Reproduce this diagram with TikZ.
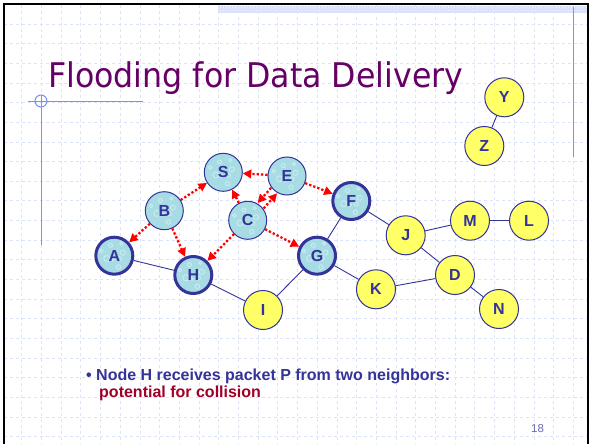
\documentclass[tikz,border=0pt]{standalone}
\usepackage{fontspec}
\setmainfont{Liberation Sans}
\newfontfamily\titlefont{DejaVu Sans}
\usetikzlibrary{arrows.meta,patterns,calc}
\definecolor{nblue}{HTML}{333399}
\definecolor{tpurple}{HTML}{660066}
\definecolor{nyellow}{HTML}{FFFF66}
\definecolor{ncyan}{HTML}{A8DCE4}
\definecolor{gridc}{HTML}{DCE4FC}
\definecolor{decob}{HTML}{7B93EE}
\definecolor{crim}{HTML}{A00028}
\definecolor{pgnum}{HTML}{6A6AAE}
\tikzset{
  netnode/.style={circle, draw=nblue, text=nblue, font=\bfseries\fontsize{16}{16}\selectfont, inner sep=0pt},
  texture/.style={path picture={
    \foreach \a/\r/\s in {20/9/2.5, 110/11/2, 200/8/3, 290/12/2.2, 160/14/1.8, 60/14/1.6, 250/4/1.5, 330/6/2}
      {\draw[white!45!ncyan, line width=0.8pt] ($(path picture bounding box.center)+(\a:\r pt)$) circle (\s pt);}}},
  cyannode/.style={netnode, fill=ncyan, texture, line width=1pt, minimum size=38pt},
  thicknode/.style={netnode, fill=ncyan, texture, line width=3pt, minimum size=37pt},
  yelnode/.style={netnode, fill=nyellow, line width=1pt, minimum size=39pt},
  link/.style={draw=nblue, line width=0.9pt},
  flood/.style={draw=red, line width=2.3pt, dash pattern=on 2.3pt off 2pt, -{Triangle[length=8.5pt,width=8.5pt]}},
  gridline/.style={draw=gridc, line width=0.8pt, dash pattern=on 3pt off 3pt},
  deco/.style={draw=decob, line width=1pt}
}
\begin{document}
\begin{tikzpicture}[x=1pt,y=-1pt]
\useasboundingbox (0,0) rectangle (591,444);
\fill[white] (0,0) rectangle (591,444);
% grid
\foreach \k in {0,...,28} {\draw[gridline] ({21.7+19.7*\k},5) -- ({21.7+19.7*\k},444);}
\foreach \k in {0,...,21} {\draw[gridline] (4,{24+19.65*\k}) -- (588,{24+19.65*\k});}
% top band
\fill[decob!30] (218,6) rectangle (588,13.5);
\fill[pattern=crosshatch dots, pattern color=white] (218,6) rectangle (588,13.5);
% border
\draw[black, line width=2pt] (3.5,444) -- (3.5,4.3) -- (588.3,4.3) -- (588.3,444);
% decorations
\draw[deco] (28,101) -- (143,101);
\draw[deco] (41,95) -- (41,245);
\draw[deco] (41,101) circle (6pt);
\draw[deco] (573.3,7) -- (573.3,157);
% title
\node[anchor=base west, inner sep=0pt, text=tpurple] (title) at (48,87)
  {\scalebox{0.93}[1]{\titlefont\fontsize{34}{34}\selectfont Flooding for Data Delivery}};
% nodes
\node[cyannode] (S) at (223.3,172.3) {S};
\node[cyannode] (E) at (287,176) {E};
\node[cyannode] (B) at (164.3,210.7) {B};
\node[cyannode] (C) at (247.7,220.3) {C};
\node[thicknode] (F) at (351.3,201) {F};
\node[thicknode] (A) at (114.3,255.7) {A};
\node[thicknode] (H) at (193.3,275) {H};
\node[thicknode] (G) at (317,255.7) {G};
\node[yelnode] (I) at (263,310) {I};
\node[yelnode] (K) at (376,289.3) {K};
\node[yelnode] (J) at (405.7,235.3) {J};
\node[yelnode] (M) at (470,220.7) {M};
\node[yelnode] (L) at (529,220.7) {L};
\node[yelnode] (D) at (455,275) {D};
\node[yelnode] (N) at (499,309) {N};
\node[yelnode] (Y) at (504.3,97.3) {Y};
\node[yelnode] (Z) at (484.3,146) {Z};
% links
\draw[link] (A) -- (H);
\draw[link] (H) -- (I);
\draw[link] (I) -- (G);
\draw[link] (G) -- (F);
\draw[link] (G) -- (K);
\draw[link] (F) -- (J);
\draw[link] (J) -- (M);
\draw[link] (M) -- (L);
\draw[link] (J) -- (D);
\draw[link] (K) -- (D);
\draw[link] (D) -- (N);
\draw[link] (Y) -- (Z);
% flooding
\draw[flood] (B) -- (S);
\draw[flood] (B) -- (A);
\draw[flood] (B) -- (H);
\draw[flood] (C) -- (S);
\draw[flood] (C) -- (H);
\draw[flood] (C) -- (G);
\draw[flood] (E) -- (S);
\draw[flood] (E) -- (F);
\draw[flood, transform canvas={xshift=3pt,yshift=-2.7pt}] (C) -- (E);
\draw[flood, transform canvas={xshift=-3pt,yshift=2.7pt}] (E) -- (C);
% text
\node[anchor=base west, inner sep=0pt, text=nblue, font=\bfseries\fontsize{16}{16}\selectfont] (t1) at (86,380) {\textbullet\ Node H receives packet P from two neighbors:};
\node[anchor=base west, inner sep=0pt, text=crim, font=\bfseries\fontsize{16}{16}\selectfont] (t2) at (99,397) {potential for collision};
\node[anchor=base west, inner sep=0pt, text=pgnum, font=\fontsize{11.5}{11.5}\selectfont] (pg) at (531,432) {18};
\end{tikzpicture}
\end{document}
